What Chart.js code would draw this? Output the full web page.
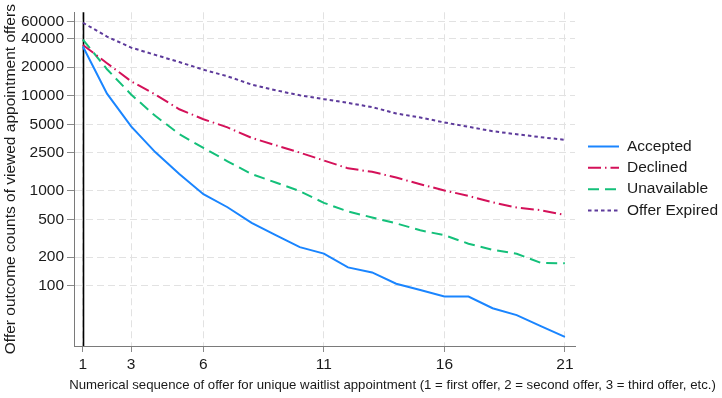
<!DOCTYPE html>
<html>
<head>
<meta charset="utf-8">
<script src="https://cdn.jsdelivr.net/npm/chart.js@4/dist/chart.umd.min.js"></script>
<style>
html,body{margin:0;padding:0;background:#fff;}
#wrap{width:722px;height:398px;position:relative;}
</style>
</head>
<body>
<div id="wrap"><canvas id="c" width="722" height="398"></canvas></div>
<script>
const offerSequence = [1,2,3,4,5,6,7,8,9,10,11,12,13,14,15,16,17,18,19,20,21];
const accepted     = [33000,10500,4750,2550,1500,920,670,458,340,255,218,156,138,105,90,77,77,58,49,37.5,29];
const declined     = [34200,22000,14200,10300,7200,5660,4640,3600,3010,2520,2080,1720,1580,1375,1170,1007,881,755,665,624,556];
const unavailable  = [39000,19000,10300,6140,3950,2820,2040,1500,1220,990,745,604,523,453,383,340,277,239,217,174,172];
const offerExpired = [58600,41900,32100,26900,22600,18800,16000,13100,11400,10100,9200,8400,7590,6500,5900,5230,4710,4230,3930,3660,3435];
const seriesLabels = ['Accepted','Declined','Unavailable','Offer Expired'];
const yTickValues = [100,200,500,1000,2500,5000,10000,20000,40000,60000];
const xTickValues = [1,3,6,11,16,21];
const yTitle = 'Offer outcome counts of viewed appointment offers';
const xTitle = 'Numerical sequence of offer for unique waitlist appointment (1 = first offer, 2 = second offer, 3 = third offer, etc.)';

const FONT = '"Liberation Sans", Arial, sans-serif';
const TXT = '#1a1a1a';
const FS = 15.5;

function pts(arr){ return offerSequence.map((x,i)=>({x:x,y:arr[i]})); }

const styles = [
  {color:'#1A85FF', dash:[]},
  {color:'#D41159', dash:[13,4,1.5,4]},
  {color:'#14C07A', dash:[11,6]},
  {color:'#5D3A9B', dash:[3.5,3]}
];
const series = [accepted, declined, unavailable, offerExpired];

const datasets = series.map((s,i)=>({
  label: seriesLabels[i],
  data: pts(s),
  borderColor: styles[i].color,
  backgroundColor: styles[i].color,
  borderDash: styles[i].dash,
  borderWidth: 2,
  pointRadius: 0,
  tension: 0,
  fill: false
}));

const extras = {
  id: 'extras',
  beforeDatasetsDraw(chart){
    const ctx = chart.ctx, a = chart.chartArea, xs = chart.scales.x;
    const px = Math.round(xs.getPixelForValue(1)) + 0.5;
    ctx.save();
    ctx.strokeStyle = '#000';
    ctx.lineWidth = 1.6;
    ctx.beginPath();
    ctx.moveTo(px, a.top);
    ctx.lineTo(px, a.bottom);
    ctx.stroke();
    ctx.restore();
  },
  afterDraw(chart){
    const ctx = chart.ctx;
    ctx.save();
    // x title, sized to span the same width as the reference
    ctx.font = '12px ' + FONT;
    const w12 = ctx.measureText(xTitle).width;
    const fs = 12 * 647 / w12;
    ctx.fillStyle = TXT;
    ctx.font = fs.toFixed(2) + 'px ' + FONT;
    ctx.textAlign = 'center';
    ctx.textBaseline = 'middle';
    ctx.fillText(xTitle, 392.5, 385);
    // legend
    const rows = [146.5, 167.8, 189.2, 210.6];
    chart.data.datasets.forEach((ds,i)=>{
      const y = rows[i];
      ctx.strokeStyle = ds.borderColor;
      ctx.lineWidth = 2;
      ctx.setLineDash(ds.borderDash || []);
      ctx.beginPath();
      ctx.moveTo(588, y);
      ctx.lineTo(619, y);
      ctx.stroke();
      ctx.setLineDash([]);
      ctx.fillStyle = TXT;
      ctx.font = FS + 'px ' + FONT;
      ctx.textAlign = 'left';
      ctx.textBaseline = 'middle';
      ctx.fillText(ds.label, 627, y);
    });
    ctx.restore();
  }
};

new Chart(document.getElementById('c'), {
  type: 'line',
  data: { datasets },
  options: {
    responsive: false,
    animation: false,
    devicePixelRatio: 1,
    layout: { padding: { top: 9, right: 147, left: 0, bottom: 0 } },
    plugins: { legend: { display: false }, tooltip: { enabled: false } },
    scales: {
      x: {
        type: 'linear',
        min: 0.63,
        max: 21.42,
        afterBuildTicks(s){ s.ticks = xTickValues.map(v=>({value:v})); },
        afterFit(s){ s.height = 52; },
        ticks: { color: TXT, font: { family: FONT, size: FS }, padding: 3, maxRotation: 0, autoSkip: false },
        grid: { color: '#e2e2e2', tickColor: '#8a8a8a', tickLength: 6, tickBorderDash: [] },
        border: { display: true, color: '#7a7a7a', width: 1, dash: [7,4] }
      },
      y: {
        type: 'logarithmic',
        min: 23.2,
        max: 75500,
        afterBuildTicks(s){ s.ticks = yTickValues.map(v=>({value:v})); },
        afterFit(s){ s.width = 74; },
        ticks: { color: TXT, font: { family: FONT, size: FS }, padding: 3, autoSkip: false,
                 callback: (v)=> String(v) },
        grid: { color: '#e2e2e2', tickColor: '#8a8a8a', tickLength: 7, tickBorderDash: [] },
        border: { display: true, color: '#7a7a7a', width: 1, dash: [7,4] },
        title: { display: true, text: yTitle, color: TXT, font: { family: FONT, size: FS }, padding: { top: 1, bottom: 0 } }
      }
    }
  },
  plugins: [extras]
});
</script>
</body>
</html>
